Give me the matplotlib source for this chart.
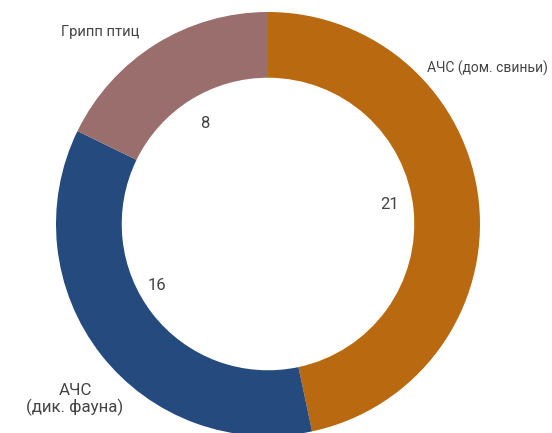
import numpy as np
import matplotlib.pyplot as plt

plt.rcParams['font.family'] = ['Roboto', 'DejaVu Sans']

labels = ['АЧС (дом. свиньи)', 'АЧС\n(дик. фауна)', 'Грипп птиц']
values = [21, 16, 8]
colors = ['#B96A10', '#244A7E', '#9A6E6C']

fig = plt.figure(figsize=(5.52, 4.33), dpi=100)
ax = fig.add_axes([0, 0, 1, 1])

wedges, _ = ax.pie(values, colors=colors, startangle=90, counterclock=False,
                   radius=1.0, wedgeprops=dict(width=0.31, linewidth=0))

R = 212.0
cx, cy = 268.0, 224.0
ax.set_xlim(-cx / R, (552 - cx) / R)
ax.set_ylim(-(433 - cy) / R, cy / R)
ax.set_aspect('equal')
ax.axis('off')

# value labels just inside the ring
label_r = [0.58, 0.60, 0.56]
angle_shift = [3, -9, 0]
for w, v, r, s in zip(wedges, values, label_r, angle_shift):
    mid = np.deg2rad((w.theta1 + w.theta2) / 2 + s)
    ax.text(r * np.cos(mid), r * np.sin(mid), str(v), ha='center', va='center',
            fontsize=12, color='#444444',
            bbox=dict(facecolor='white', edgecolor='none', pad=2))

# category labels outside
name_pos = [(1.32, 0.736, 'right'), (-0.91, -0.83, 'center'), (-0.79, 0.906, 'center')]
name_size = [10, 12.2, 10.6]
for name, (x, y, ha), fs in zip(labels, name_pos, name_size):
    ax.text(x, y, name, ha=ha, va='center', fontsize=fs, color='#444444',
            linespacing=1.05)

fig.savefig('out.png', dpi=100)
